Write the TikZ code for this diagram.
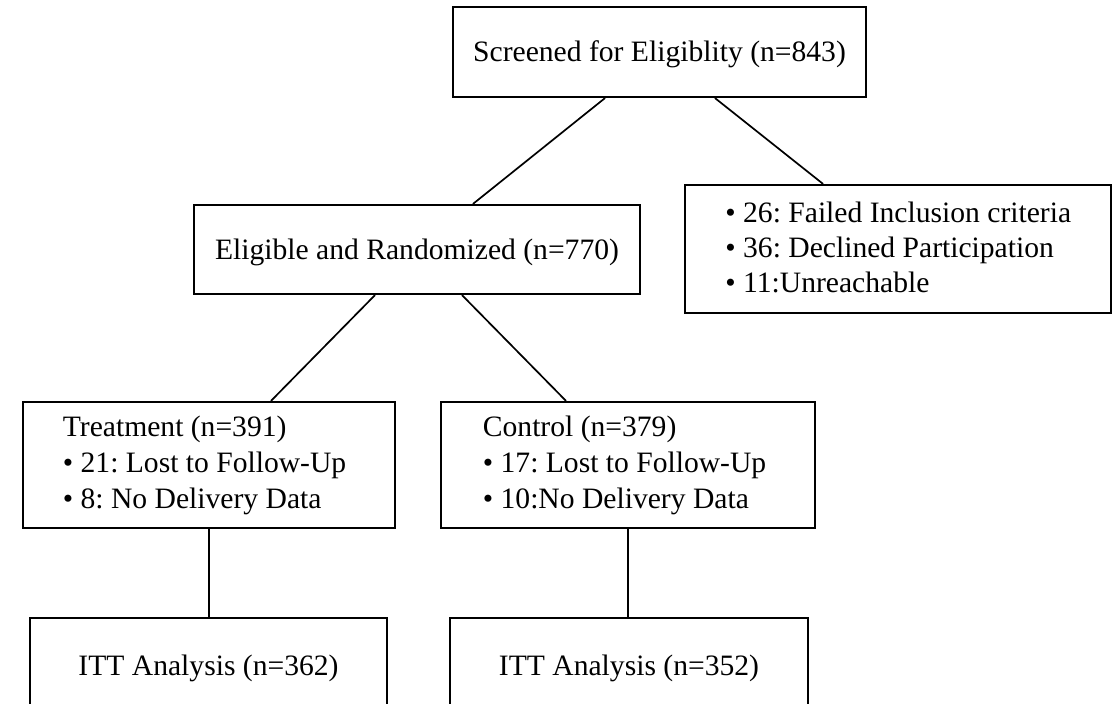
\documentclass[tikz,border=0pt]{standalone}
\usepackage{fontspec}
\setmainfont{Liberation Serif}
\frenchspacing
\begin{document}
\begin{tikzpicture}[x=0.5pt,y=-0.5pt,
  box/.style={draw=black, line width=1.1pt, inner sep=0pt,
    font=\fontsize{14.8pt}{18pt}\selectfont, text height=9.8pt, text depth=0pt},
  link/.style={draw=black, line width=0.85pt},
  list/.style={inner sep=0pt, anchor=base west},
  listA/.style={list, font=\fontsize{14.8pt}{17.5pt}\selectfont},
  listB/.style={list, font=\fontsize{14.8pt}{18pt}\selectfont}]
\clip (0,0) rectangle (1113,704);

% boxes
\node[box, minimum width=206.5pt, minimum height=45pt] (screen) at (659.5,52) {Screened for Eligiblity (n=843)};
\node[box, minimum width=223pt, minimum height=44.5pt] (elig) at (417,249.5) {Eligible and Randomized (n=770)};
\node[box, minimum width=213pt, minimum height=64pt] (excl) at (898,249) {};
\node[box, minimum width=186pt, minimum height=63pt] (treat) at (209,465) {};
\node[box, minimum width=187pt, minimum height=63pt] (ctrl) at (628,465) {};
\node[box, minimum width=178.5pt, minimum height=48pt] (itt1) at (208.5,666) {ITT Analysis (n=362)};
\node[box, minimum width=179pt, minimum height=48pt] (itt2) at (629,666) {ITT Analysis (n=352)};

% list texts inside the boxes
\node[listA] (excltext) at (725,223) {\begin{tabular}[t]{@{}l@{}}• 26: Failed Inclusion criteria\\• 36: Declined Participation\\• 11:Unreachable\end{tabular}};
\node[listB] (treattext) at (62.5,437) {\begin{tabular}[t]{@{}l@{}}Treatment (n=391)\\• 21: Lost to Follow-Up\\• 8: No Delivery Data\end{tabular}};
\node[listB] (ctrltext) at (482.5,437) {\begin{tabular}[t]{@{}l@{}}Control (n=379)\\• 17: Lost to Follow-Up\\• 10:No Delivery Data\end{tabular}};

% connectors
\draw[link] ([xshift=-27.25pt]screen.south) -- ([xshift=28pt]elig.north);
\draw[link] ([xshift=27.75pt]screen.south) -- ([xshift=-37.5pt]excl.north);
\draw[link] ([xshift=-21pt]elig.south) -- ([xshift=31pt]treat.north);
\draw[link] ([xshift=22.5pt]elig.south) -- ([xshift=-31pt]ctrl.north);
\draw[link] (treat.south) -- (treat.south |- itt1.north);
\draw[link] (ctrl.south) -- (ctrl.south |- itt2.north);
\end{tikzpicture}
\end{document}
